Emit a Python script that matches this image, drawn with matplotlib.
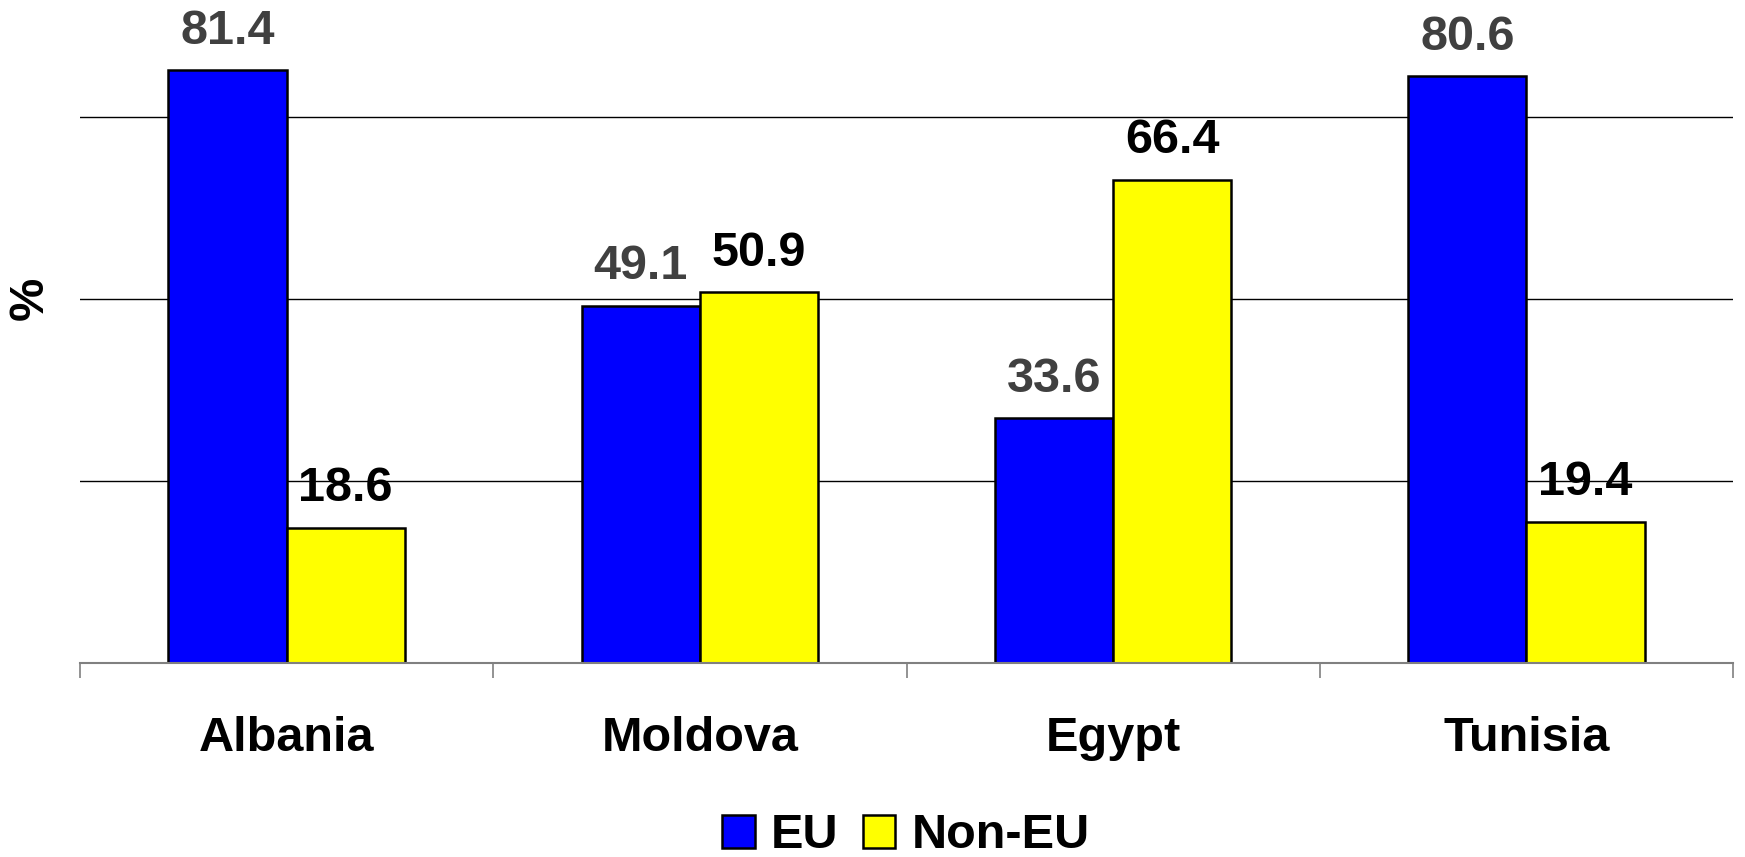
import numpy as np
import matplotlib.pyplot as plt

plt.rcParams['font.family'] = ['Liberation Sans', 'DejaVu Sans']
plt.rcParams['font.weight'] = 'bold'

# share of exports by destination, %
countries = ['Albania', 'Moldova', 'Egypt', 'Tunisia']
eu = [81.4, 49.1, 33.6, 80.6]
non_eu = [18.6, 50.9, 66.4, 19.4]

W, H, DPI = 1745, 857, 100
fig = plt.figure(figsize=(W / DPI, H / DPI), dpi=DPI)
ax = fig.add_axes([80 / W, 1 - 663 / H, (1733 - 80) / W, 663 / H])

x = np.arange(len(countries))
bw = 0.286

b1 = ax.bar(x - bw / 2, eu, bw, color='#0000FF', edgecolor='black',
            linewidth=1.8, label='EU', zorder=3)
b2 = ax.bar(x + bw / 2, non_eu, bw, color='#FFFF00', edgecolor='black',
            linewidth=1.8, label='Non-EU', zorder=3)

for rect, v in zip(b1, eu):
    ax.annotate(f'{v:.1f}', (rect.get_x() + rect.get_width() / 2, v),
                xytext=(0, 19), textcoords='offset points', ha='center',
                va='baseline', fontsize=35, fontweight='bold', color='#404040',
                zorder=5)
for rect, v in zip(b2, non_eu):
    ax.annotate(f'{v:.1f}', (rect.get_x() + rect.get_width() / 2, v),
                xytext=(0, 19), textcoords='offset points', ha='center',
                va='baseline', fontsize=35, fontweight='bold', color='black',
                zorder=5)

ax.set_xlim(-0.5, len(countries) - 0.5)
ax.set_ylim(0, 663 / 7.28)

# horizontal grid lines
for g in [25, 50, 75]:
    ax.axhline(g, color='black', linewidth=1.0, zorder=1)

for s in ['left', 'right', 'top']:
    ax.spines[s].set_visible(False)
ax.spines['bottom'].set_color('#808080')
ax.spines['bottom'].set_linewidth(1.5)
ax.spines['bottom'].set_zorder(4)

ax.set_yticks([])
ax.set_xticks(x)
ax.set_xticklabels(countries, fontsize=35, fontweight='bold')
ax.tick_params(axis='x', which='major', length=0, pad=38)
ax.set_xticks(np.arange(-0.5, len(countries)), minor=True)
ax.tick_params(axis='x', which='minor', length=11, width=1.2, color='#808080',
               direction='out')

fig.text(30 / W, 1 - 298 / H, '%', rotation=90, ha='center', va='center',
         fontsize=35, fontweight='bold')

fig.legend(handles=[b1, b2], labels=['EU', 'Non-EU'], loc='center',
           bbox_to_anchor=(906 / W, 1 - 836 / H), ncol=2, frameon=False,
           prop={'size': 35, 'weight': 'bold'}, handlelength=0.67,
           handleheight=0.67, handletextpad=0.33, columnspacing=0.5,
           borderpad=0, borderaxespad=0)

fig.savefig('out.png', dpi=DPI, facecolor='white')
